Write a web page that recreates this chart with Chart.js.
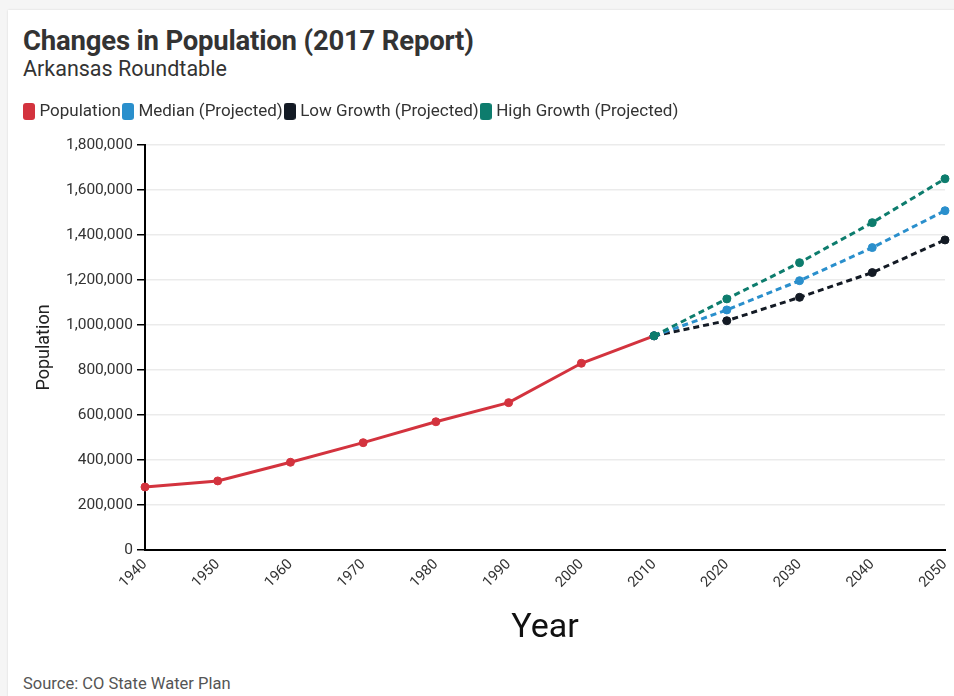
<!DOCTYPE html>
<html>
<head>
<meta charset="utf-8">
<script src="https://cdn.jsdelivr.net/npm/chart.js@4"></script>
<style>
  html, body { margin: 0; padding: 0; }
  body { width: 954px; height: 696px; background: #f5f5f5; position: relative; overflow: hidden; font-family: Roboto, "Open Sans", sans-serif; }
  .card { position: absolute; left: 8px; top: 10px; width: 960px; height: 700px; background: #fff; box-shadow: 0 0 2px rgba(0,0,0,0.12); }
  .title { position: absolute; left: 23px; top: 24px; font-size: 27.5px; font-weight: 700; color: #333; letter-spacing: -0.2px; line-height: 1.2; }
  .subtitle { position: absolute; left: 23px; top: 56px; font-size: 21.5px; color: #333; line-height: 1.2; }
  .source { position: absolute; left: 23px; top: 674px; font-size: 16.5px; color: #555; line-height: 1.2; }
  #wrap { position: absolute; left: 0; top: 0; width: 954px; height: 696px; }
</style>
</head>
<body>
<div class="card"></div>
<div class="title">Changes in Population (2017 Report)</div>
<div class="subtitle">Arkansas Roundtable</div>
<div class="source">Source: CO State Water Plan</div>
<div id="wrap"><canvas id="chart" width="954" height="696"></canvas></div>
<script>
// Census years and projection horizons
const years = ['1940','1950','1960','1970','1980','1990','2000','2010','2020','2030','2040','2050'];

// Historical population (1940–2010)
const population = [280000, 307000, 390000, 477000, 570000, 655000, 830000, 952000, null, null, null, null];

// Projections starting from the 2010 count
const medianProjected = [null, null, null, null, null, null, null, 952000, 1067000, 1197000, 1344000, 1508000];
const lowProjected    = [null, null, null, null, null, null, null, 952000, 1019000, 1123000, 1233000, 1378000];
const highProjected   = [null, null, null, null, null, null, null, 952000, 1116000, 1277000, 1455000, 1650000];

const yTicks = [0, 200000, 400000, 600000, 800000, 1000000, 1200000, 1400000, 1600000, 1800000];

const RED = '#d3333e', BLUE = '#2a8fcc', DARK = '#131a24', TEAL = '#0d7c6d';

function series(label, data, color, dashed, order) {
  return {
    label, data, order,
    borderColor: color,
    backgroundColor: color,
    pointBackgroundColor: color,
    pointBorderColor: color,
    borderWidth: 3,
    borderDash: dashed ? [6, 4] : [],
    pointRadius: 4,
    pointBorderWidth: 1,
    pointHoverRadius: 5,
    tension: 0,
    spanGaps: false
  };
}

// Rounded swatch used as the legend marker
function swatch(color) {
  const c = document.createElement('canvas');
  c.width = 12; c.height = 17;
  const g = c.getContext('2d');
  g.fillStyle = color;
  g.beginPath();
  g.roundRect(0, 0, 12, 17, 3);
  g.fill();
  return c;
}

// Extra space between the legend row and the plot
const legendGap = {
  id: 'legendGap',
  beforeInit(chart) {
    const fit = chart.legend.fit;
    chart.legend.fit = function () {
      fit.call(this);
      this.height += 15;
    };
  }
};

Chart.defaults.font.family = 'Roboto, "Open Sans", sans-serif';
Chart.defaults.color = '#333';

new Chart(document.getElementById('chart'), {
  type: 'line',
  data: {
    labels: years,
    datasets: [
      series('Population', population, RED, false, 3),
      series('Median (Projected)', medianProjected, BLUE, true, 1),
      series('Low Growth (Projected)', lowProjected, DARK, true, 2),
      series('High Growth (Projected)', highProjected, TEAL, true, 0)
    ]
  },
  plugins: [legendGap],
  options: {
    responsive: false,
    animation: false,
    layout: { padding: { top: 98, left: 22, right: 9, bottom: 43 } },
    plugins: {
      legend: {
        position: 'top',
        align: 'start',
        labels: {
          usePointStyle: true,
          pointStyleWidth: 4,
          boxHeight: 17,
          padding: 5,
          color: '#333',
          font: { size: 17 },
          sort: (a, b) => a.datasetIndex - b.datasetIndex,
          generateLabels: (chart) =>
            Chart.defaults.plugins.legend.labels.generateLabels(chart)
              .map(item => Object.assign(item, {
                lineDash: [], lineWidth: 0,
                pointStyle: swatch(chart.data.datasets[item.datasetIndex].borderColor)
              }))
        }
      },
      tooltip: { enabled: false }
    },
    scales: {
      x: {
        grid: { display: false, drawTicks: false },
        border: { display: true, color: '#000', width: 2 },
        ticks: { minRotation: 45, maxRotation: 45, padding: 6, color: '#333', font: { size: 14.5 } },
        title: { display: true, text: 'Year', color: '#111', font: { size: 34 }, padding: { top: 4, bottom: 4 } },
        afterFit: (s) => { s.height = 103; s.paddingRight = 0; s.paddingLeft = 0; }
      },
      y: {
        min: 0,
        max: 1800000,
        afterBuildTicks: (s) => { s.ticks = yTicks.map(v => ({ value: v })); },
        grid: { color: '#ebebeb', lineWidth: 1.5, tickColor: '#000', tickLength: 8, tickWidth: 1.5 },
        border: { display: true, color: '#000', width: 2 },
        ticks: { padding: 4, color: '#333', font: { size: 15.5 }, callback: (v) => v.toLocaleString('en-US') },
        title: { display: true, text: 'Population', color: '#222', font: { size: 18 }, padding: { top: 12, bottom: 4 } },
        afterFit: (s) => { s.width = 123; }
      }
    }
  }
});
</script>
</body>
</html>
